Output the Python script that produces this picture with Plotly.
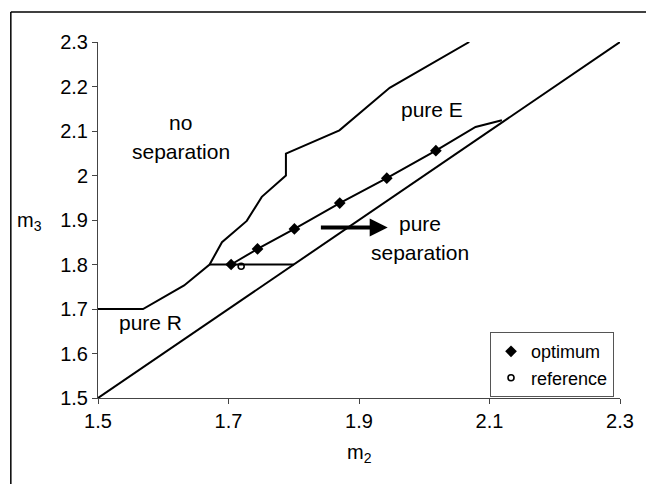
import plotly.graph_objects as go

# --- data ---
diag_x = [1.5, 2.3]
diag_y = [1.5, 2.3]

upper_x = [1.5, 1.569, 1.632, 1.671, 1.69, 1.728, 1.751, 1.788, 1.788, 1.870, 1.947, 2.069]
upper_y = [1.7, 1.7, 1.753, 1.8, 1.85, 1.898, 1.952, 2.0, 2.049, 2.1015, 2.197, 2.3]

hline_x = [1.671, 1.8]
hline_y = [1.8, 1.8]

opt_line_x = [1.704, 1.7445, 1.801, 1.8705, 1.9426, 2.0178, 2.0786, 2.119]
opt_line_y = [1.8, 1.835, 1.88, 1.938, 1.994, 2.0558, 2.109, 2.124]

opt_x = [1.704, 1.7445, 1.801, 1.8705, 1.9426, 2.0178]
opt_y = [1.8, 1.835, 1.88, 1.938, 1.994, 2.0558]

ref_x = [1.7194]
ref_y = [1.796]

x_ticks = [1.5, 1.7, 1.9, 2.1, 2.3]
x_ticktext = ["1.5", "1.7", "1.9", "2.1", "2.3"]
y_ticks = [1.5, 1.6, 1.7, 1.8, 1.9, 2.0, 2.1, 2.2, 2.3]
y_ticktext = ["1.5", "1.6", "1.7", "1.8", "1.9", "2", "2.1", "2.2", "2.3"]

FONT = "Liberation Sans, Arial, sans-serif"
LW = 2

fig = go.Figure()
for xs, ys in [(diag_x, diag_y), (upper_x, upper_y), (hline_x, hline_y), (opt_line_x, opt_line_y)]:
    fig.add_trace(go.Scatter(x=xs, y=ys, mode="lines", line=dict(color="black", width=LW),
                             showlegend=False, hoverinfo="skip"))

fig.add_trace(go.Scatter(x=opt_x, y=opt_y, mode="markers", name="optimum",
                         marker=dict(symbol="diamond", size=9, color="black")))
fig.add_trace(go.Scatter(x=ref_x, y=ref_y, mode="markers", name="reference",
                         marker=dict(symbol="circle-open", size=6, color="black",
                                     line=dict(width=1.6, color="black"))))

ann_font = dict(family=FONT, size=21, color="black")
labels = [
    (1.627, 2.118, "no"),
    (1.627, 2.053, "separation"),
    (2.012, 2.148, "pure E"),
    (1.994, 1.893, "pure"),
    (1.994, 1.828, "separation"),
    (1.580, 1.669, "pure R"),
]
for x, y, t in labels:
    fig.add_annotation(x=x, y=y, text=t, showarrow=False, font=ann_font, xanchor="center", yanchor="middle")

# arrow
fig.add_annotation(x=1.944, y=1.883, ax=1.837, ay=1.883, axref="x", ayref="y", xref="x", yref="y",
                   text=" ", showarrow=True, arrowhead=2, arrowsize=0.9, arrowwidth=4, arrowcolor="black")

# axis titles
fig.add_annotation(xref="paper", yref="paper", x=-0.131, y=0.495, text="m<sub>3</sub>", showarrow=False,
                   xanchor="center", font=dict(family=FONT, size=20, color="black"))
fig.add_annotation(xref="paper", yref="paper", x=0.501, y=-0.155, text="m<sub>2</sub>", showarrow=False,
                   font=dict(family=FONT, size=20, color="black"), yanchor="middle")

# outer frame (left and top edges)
fig.add_shape(type="line", xref="paper", yref="paper", x0=-0.167, x1=-0.167, y0=1.0 + 30/356, y1=-0.27,
              line=dict(color="black", width=1.5))
fig.add_shape(type="line", xref="paper", yref="paper", x0=-0.167, x1=1.05, y0=1.0 + 30/356, y1=1.0 + 30/356,
              line=dict(color="black", width=1.5))

axis_common = dict(showgrid=False, zeroline=False, showline=True, linecolor="#444", linewidth=1,
                   ticks="outside", ticklen=5, tickcolor="#444",
                   tickfont=dict(family=FONT, size=20, color="black"))
fig.update_xaxes(range=[1.5, 2.3], tickvals=x_ticks, ticktext=x_ticktext, **axis_common)
fig.update_yaxes(range=[1.5, 2.3], tickvals=y_ticks, ticktext=y_ticktext, **axis_common)

fig.update_layout(
    width=646, height=484,
    margin=dict(l=98, r=22, t=42, b=86),
    paper_bgcolor="white", plot_bgcolor="white",
    font=dict(family=FONT, color="black"),
    legend=dict(x=0.751, y=0.185, xanchor="left", yanchor="top",
                bordercolor="#555", borderwidth=1, bgcolor="white",
                font=dict(family=FONT, size=18, color="black"),
                itemwidth=30, tracegroupgap=0),
)

fig.write_html("out.html")
